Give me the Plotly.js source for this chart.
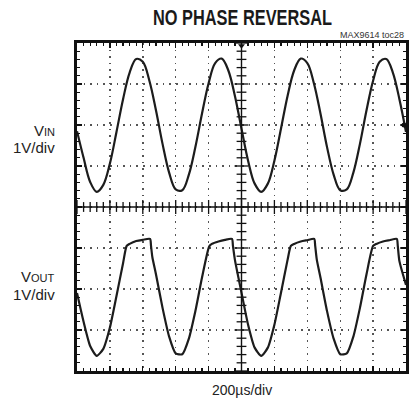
<!DOCTYPE html>
<html>
<head>
<meta charset="utf-8">
<script src="https://cdn.plot.ly/plotly-3.0.1.min.js"></script>
<style>html,body{margin:0;padding:0;background:#fff;}#chart{width:414px;height:405px;}</style>
</head>
<body>
<div id="chart"></div>
<script>
// Time axis (µs), 200 µs per division
const vinTime = [0,40,80,120,160,200,240,280,320,360,400,440,480,520,560,600,640,680,720,760,800,840,880,920,960,1000,1040,1080,1120,1160,1200,1240,1280,1320,1360,1400,1440,1480,1520,1560,1600,1640,1680,1720,1760,1800,1840,1880,1920,1960,2000];
// Input voltage (V) relative to its ground marker
const vinVolts = [-0.15,-0.80,-1.39,-1.63,-1.46,-0.94,-0.17,0.63,1.28,1.61,1.54,1.08,0.36,-0.46,-1.16,-1.57,-1.59,-1.21,-0.53,0.28,1.02,1.51,1.62,1.33,0.71,-0.09,-0.87,-1.43,-1.63,-1.43,-0.87,-0.09,0.71,1.33,1.62,1.51,1.02,0.28,-0.54,-1.21,-1.59,-1.57,-1.16,-0.46,0.36,1.08,1.54,1.61,1.28,0.63,-0.17];

const voutTime = [0,40,80,120,160,200,240,280,302,320,360,400,444,450,458,480,520,560,600,640,680,720,760,804,820,860,900,942,948,960,1000,1040,1080,1120,1160,1200,1240,1280,1300,1320,1360,1400,1442,1448,1458,1480,1520,1560,1600,1640,1680,1720,1760,1800,1820,1860,1900,1944,1950,1960,2000];
// Output voltage (V) relative to its ground marker
const voutVolts = [-0.10,-0.80,-1.39,-1.63,-1.46,-0.94,-0.17,0.63,1.05,1.10,1.17,1.20,1.22,1.05,0.78,0.36,-0.46,-1.16,-1.57,-1.59,-1.21,-0.53,0.28,1.04,1.10,1.16,1.20,1.22,1.05,0.71,-0.09,-0.87,-1.43,-1.63,-1.43,-0.87,-0.09,0.71,1.05,1.10,1.16,1.19,1.22,1.05,0.71,0.28,-0.54,-1.21,-1.59,-1.57,-1.16,-0.46,0.36,1.05,1.10,1.16,1.19,1.22,1.05,0.68,0.10];

const channelLabels = ["V<span style='font-size:11px'>IN</span>", "V<span style='font-size:11px'>OUT</span>"];
const scaleLabel = "1V/div";
const timeLabel = "200µs/div";
const titleText = "NO PHASE REVERSAL";
const noteText = "MAX9614 toc28";

const VIN_OFFSET = 2, VOUT_OFFSET = -2;

// centre graticule tick positions
const xMinor = [], yMinor = [], xMinorMaj = [], yMinorMaj = [];
for (let t = 0; t <= 2000; t += 40) { if (t % 200 === 0) xMinorMaj.push(t); else xMinor.push(t); }
for (let k = -20; k <= 20; k++) { if (k % 5 === 0) yMinorMaj.push(k / 5); else yMinor.push(k / 5); }

const traceColor = '#1c1c1c';
const data = [
  {x: xMinor, y: xMinor.map(() => 0), mode: 'markers', hoverinfo: 'skip',
   marker: {symbol: 'line-ns', size: 7, line: {color: '#111', width: 1.3}}},
  {x: xMinorMaj, y: xMinorMaj.map(() => 0), mode: 'markers', hoverinfo: 'skip',
   marker: {symbol: 'line-ns', size: 10, line: {color: '#111', width: 1.3}}},
  {x: yMinor.map(() => 1000), y: yMinor, mode: 'markers', hoverinfo: 'skip',
   marker: {symbol: 'line-ew', size: 7, line: {color: '#111', width: 1.3}}},
  {x: yMinorMaj.map(() => 1000), y: yMinorMaj, mode: 'markers', hoverinfo: 'skip',
   marker: {symbol: 'line-ew', size: 10, line: {color: '#111', width: 1.3}}},
  {x: vinTime, y: vinVolts.map(v => v + VIN_OFFSET), mode: 'lines', name: 'VIN',
   line: {color: traceColor, width: 2.2, shape: 'spline', smoothing: 1}},
  {x: voutTime, y: voutVolts.map(v => v + VOUT_OFFSET), mode: 'lines', name: 'VOUT',
   line: {color: traceColor, width: 2.2, shape: 'spline', smoothing: 0.6}},
  {x: [1000], y: [3.93], mode: 'markers', cliponaxis: false, hoverinfo: 'skip',
   marker: {symbol: 'triangle-down', size: 6, color: '#111'}},
  {x: [1988], y: [VIN_OFFSET], mode: 'markers', cliponaxis: false, hoverinfo: 'skip',
   marker: {symbol: 'circle', size: 5, color: '#111'}}
];

const axisCommon = {
  showticklabels: false, showline: true, linewidth: 3, linecolor: '#111', mirror: 'allticks',
  ticks: 'inside', ticklen: 5, tickwidth: 1.3, tickcolor: '#111',
  showgrid: true, gridcolor: '#555', gridwidth: 1.4, griddash: '1.6px,5px',
  zeroline: false, fixedrange: true
};

const layout = {
  width: 414, height: 405,
  margin: {l: 77, r: 8, t: 43, b: 34},
  paper_bgcolor: '#fff', plot_bgcolor: '#fff',
  showlegend: false,
  title: {text: titleText, x: 0.5857, xref: 'container', xanchor: 'center',
          y: 0.958, yref: 'container', yanchor: 'middle',
          font: {family: 'Liberation Sans, Arial, sans-serif', size: 22, weight: 700, color: '#1a1a1a'}},
  xaxis: Object.assign({}, axisCommon, {range: [0, 2000], dtick: 200, tick0: 0,
          minor: {dtick: 40, tick0: 0, ticks: 'inside', ticklen: 3, tickwidth: 1.2, tickcolor: '#111', showgrid: false}}),
  yaxis: Object.assign({}, axisCommon, {range: [-4, 4], dtick: 1, tick0: 0,
          minor: {dtick: 0.2, tick0: 0, ticks: 'inside', ticklen: 3, tickwidth: 1.2, tickcolor: '#111', showgrid: false}}),
  shapes: [
    {type: 'line', xref: 'x', yref: 'y', x0: 1000, x1: 1000, y0: -4, y1: 4, line: {color: '#111', width: 1.4}},
    {type: 'line', xref: 'x', yref: 'y', x0: 0, x1: 2000, y0: 0, y1: 0, line: {color: '#111', width: 1.4}}
  ],
  annotations: [
    {text: noteText, xref: 'paper', yref: 'paper', x: 1.0, y: 1.0244, xanchor: 'right', yanchor: 'middle',
     showarrow: false, font: {family: 'Liberation Sans, Arial, sans-serif', size: 9, color: '#333'}},
    {text: channelLabels[0], xref: 'paper', yref: 'paper', x: -0.061, y: 0.732, xanchor: 'right', yanchor: 'middle',
     showarrow: false, font: {family: 'Liberation Sans, Arial, sans-serif', size: 15, color: '#222'}},
    {text: scaleLabel, xref: 'paper', yref: 'paper', x: -0.061, y: 0.680, xanchor: 'right', yanchor: 'middle',
     showarrow: false, font: {family: 'Liberation Sans, Arial, sans-serif', size: 15, color: '#222'}},
    {text: channelLabels[1], xref: 'paper', yref: 'paper', x: -0.061, y: 0.287, xanchor: 'right', yanchor: 'middle',
     showarrow: false, font: {family: 'Liberation Sans, Arial, sans-serif', size: 15, color: '#222'}},
    {text: scaleLabel, xref: 'paper', yref: 'paper', x: -0.061, y: 0.232, xanchor: 'right', yanchor: 'middle',
     showarrow: false, font: {family: 'Liberation Sans, Arial, sans-serif', size: 15, color: '#222'}},
    {text: timeLabel, xref: 'paper', yref: 'paper', x: 0.5015, y: -0.058, xanchor: 'center', yanchor: 'middle',
     showarrow: false, font: {family: 'Liberation Sans, Arial, sans-serif', size: 14, color: '#222'}}
  ]
};

Plotly.newPlot('chart', data, layout, {staticPlot: true, displayModeBar: false}).then(function () {
  // condensed title face: squeeze the real title text to the reference width
  var t = document.querySelector('#chart .gtitle');
  if (t) { t.setAttribute('textLength', '179'); t.setAttribute('lengthAdjust', 'spacingAndGlyphs'); }
});
</script>
</body>
</html>
